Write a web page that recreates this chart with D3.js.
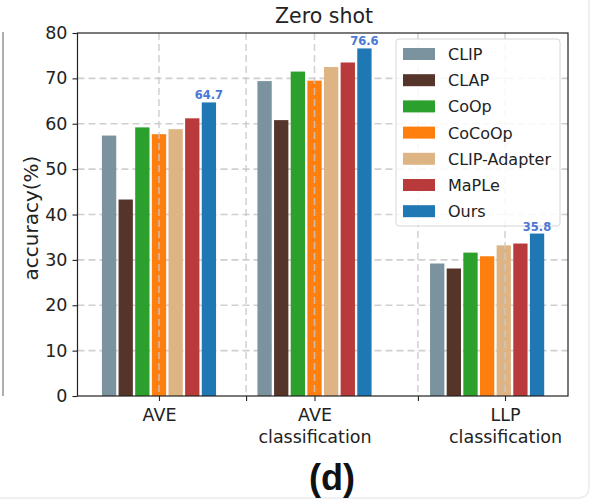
<!DOCTYPE html>
<html>
<head>
<meta charset="utf-8">
<script src="https://cdn.jsdelivr.net/npm/d3@7"></script>
<style>
  html, body { margin: 0; padding: 0; background: #fff; }
  svg { display: block; font-family: "DejaVu Sans", sans-serif; }
</style>
</head>
<body>
<svg id="chart" width="592" height="501"></svg>
<script>
// Methods and their bar colours
const methods = ["CLIP", "CLAP", "CoOp", "CoCoOp", "CLIP-Adapter", "MaPLe", "Ours"];
const colors = ["#7a939e", "#55342a", "#2ca02c", "#ff7f0e", "#deb484", "#b93a3b", "#1f77b4"];

// Task groups: label lines and group centre on the x axis
const groups = [["AVE"], ["AVE", "classification"], ["LLP", "classification"]];
const groupCenters = [0, 1, 2.11];

// Accuracy (%) per method, one array per group
const aveValues = [57.4, 43.3, 59.2, 57.7, 58.8, 61.2, 64.7];
const aveClsValues = [69.4, 60.8, 71.5, 69.5, 72.5, 73.5, 76.6];
const llpClsValues = [29.2, 28.1, 31.6, 30.8, 33.2, 33.6, 35.8];
const groupValues = [aveValues, aveClsValues, llpClsValues];

// X tick positions (labelled at the group names, blank in between)
const xTickPos = [0, 0.56, 1, 1.665, 2.225];
const xTickLabels = [groups[0], [], groups[1], [], groups[2]];
const yTicks = [0, 10, 20, 30, 40, 50, 60, 70, 80];

const svg = d3.select("#chart");
const W = 592, H = 501;
const plot = { left: 77.5, right: 568, top: 33, bottom: 396 };

const x = d3.scaleLinear().domain([-0.524, 2.63]).range([plot.left, plot.right]);
const y = d3.scaleLinear().domain([0, 80]).range([plot.bottom, plot.top]);

const barStep = 0.107, barWidth = 0.092;
const pxBar = x(barWidth) - x(0);

// faint card outline and neighbouring panel edge
svg.append("path")
  .attr("d", `M ${W - 3} 0 L ${W - 3} ${H - 14} Q ${W - 3} ${H - 3} ${W - 14} ${H - 3} L 0 ${H - 3}`)
  .attr("fill", "none").attr("stroke", "#ececec").attr("stroke-width", 1.5);
svg.append("line").attr("x1", 3).attr("x2", 3).attr("y1", 32).attr("y2", 396)
  .attr("stroke", "#777").attr("stroke-width", 1.2);

// horizontal grid
svg.append("g").selectAll("line").data(yTicks.slice(1, -1)).join("line")
  .attr("x1", plot.left).attr("x2", plot.right)
  .attr("y1", d => y(d)).attr("y2", d => y(d))
  .attr("stroke", "#cfcfcf").attr("stroke-width", 1.6).attr("stroke-dasharray", "7,4");

// bars
const flat = [];
groupValues.forEach((vals, gi) => vals.forEach((v, mi) => flat.push({ gi, mi, v })));
const barX = d => groupCenters[d.gi] + (d.mi - 3) * barStep;

svg.append("g").selectAll("rect").data(flat).join("rect")
  .attr("x", d => x(barX(d)) - pxBar / 2)
  .attr("width", pxBar)
  .attr("y", d => y(d.v))
  .attr("height", d => y(0) - y(d.v))
  .attr("fill", d => colors[d.mi]);

// vertical grid
svg.append("g").selectAll("line").data(xTickPos).join("line")
  .attr("x1", d => x(d)).attr("x2", d => x(d))
  .attr("y1", plot.top).attr("y2", plot.bottom)
  .attr("stroke", "#c8c8c8").attr("stroke-opacity", 0.8).attr("stroke-width", 1.6).attr("stroke-dasharray", "7,4");

// frame
svg.append("rect")
  .attr("x", plot.left).attr("y", plot.top)
  .attr("width", plot.right - plot.left).attr("height", plot.bottom - plot.top)
  .attr("fill", "none").attr("stroke", "#222").attr("stroke-width", 1.2);

// y axis
const yAxis = svg.append("g").attr("transform", `translate(${plot.left},0)`)
  .call(d3.axisLeft(y).tickValues(yTicks).tickSize(5).tickPadding(5));
yAxis.select(".domain").remove();
yAxis.selectAll("text").attr("font-size", 17.5).attr("fill", "#222")
  .attr("font-family", "DejaVu Sans, sans-serif");
yAxis.selectAll("line").attr("stroke", "#222").attr("stroke-width", 1.1);

// x axis
const xAxis = svg.append("g").attr("transform", `translate(0,${plot.bottom})`)
  .call(d3.axisBottom(x).tickValues(xTickPos).tickSize(5).tickFormat(""));
xAxis.select(".domain").remove();
xAxis.selectAll("line").attr("stroke", "#222").attr("stroke-width", 1.1);
xAxis.selectAll(".tick").each(function (d, i) {
  const t = d3.select(this).append("text")
    .attr("text-anchor", "middle").attr("fill", "#222").attr("font-size", 17.5)
    .attr("font-family", "DejaVu Sans, sans-serif");
  xTickLabels[i].forEach((line, li) => {
    t.append("tspan").attr("x", 0).attr("y", 24.5 + li * 22.5).text(line);
  });
});

// axis title and chart title
svg.append("text")
  .attr("transform", `translate(38,218) rotate(-90)`)
  .attr("text-anchor", "middle").attr("font-size", 20).attr("fill", "#222")
  .text("accuracy(%)");
svg.append("text")
  .attr("x", 324).attr("y", 22.5)
  .attr("text-anchor", "middle").attr("font-size", 20.5).attr("fill", "#222")
  .text("Zero shot");

// legend
const lg = svg.append("g").attr("transform", "translate(396,39)");
lg.append("rect").attr("width", 164).attr("height", 187).attr("rx", 3)
  .attr("fill", "#fff").attr("fill-opacity", 0.85).attr("stroke", "#d6d6d6");
methods.forEach((m, i) => {
  const row = lg.append("g").attr("transform", `translate(7,${9 + i * 26.2})`);
  row.append("rect").attr("width", 32).attr("height", 12).attr("fill", colors[i]);
  row.append("text").attr("x", 45).attr("y", 12).attr("font-size", 16).attr("fill", "#222").text(m);
});

// value labels on "Ours"
svg.append("g").selectAll("text").data(flat.filter(d => d.mi === 6)).join("text")
  .attr("x", d => x(barX(d)))
  .attr("y", d => y(d.v) - 3)
  .attr("text-anchor", "middle")
  .attr("font-size", 11.5).attr("font-weight", "bold").attr("fill", "#4a78d2")
  .text(d => d.v.toFixed(1));

// panel tag
svg.append("text")
  .attr("x", 332).attr("y", 490)
  .attr("text-anchor", "middle").attr("font-size", 36).attr("font-weight", "bold")
  .attr("font-family", "Liberation Sans, Arial, sans-serif").attr("fill", "#111")
  .text("(d)");
</script>
</body>
</html>
